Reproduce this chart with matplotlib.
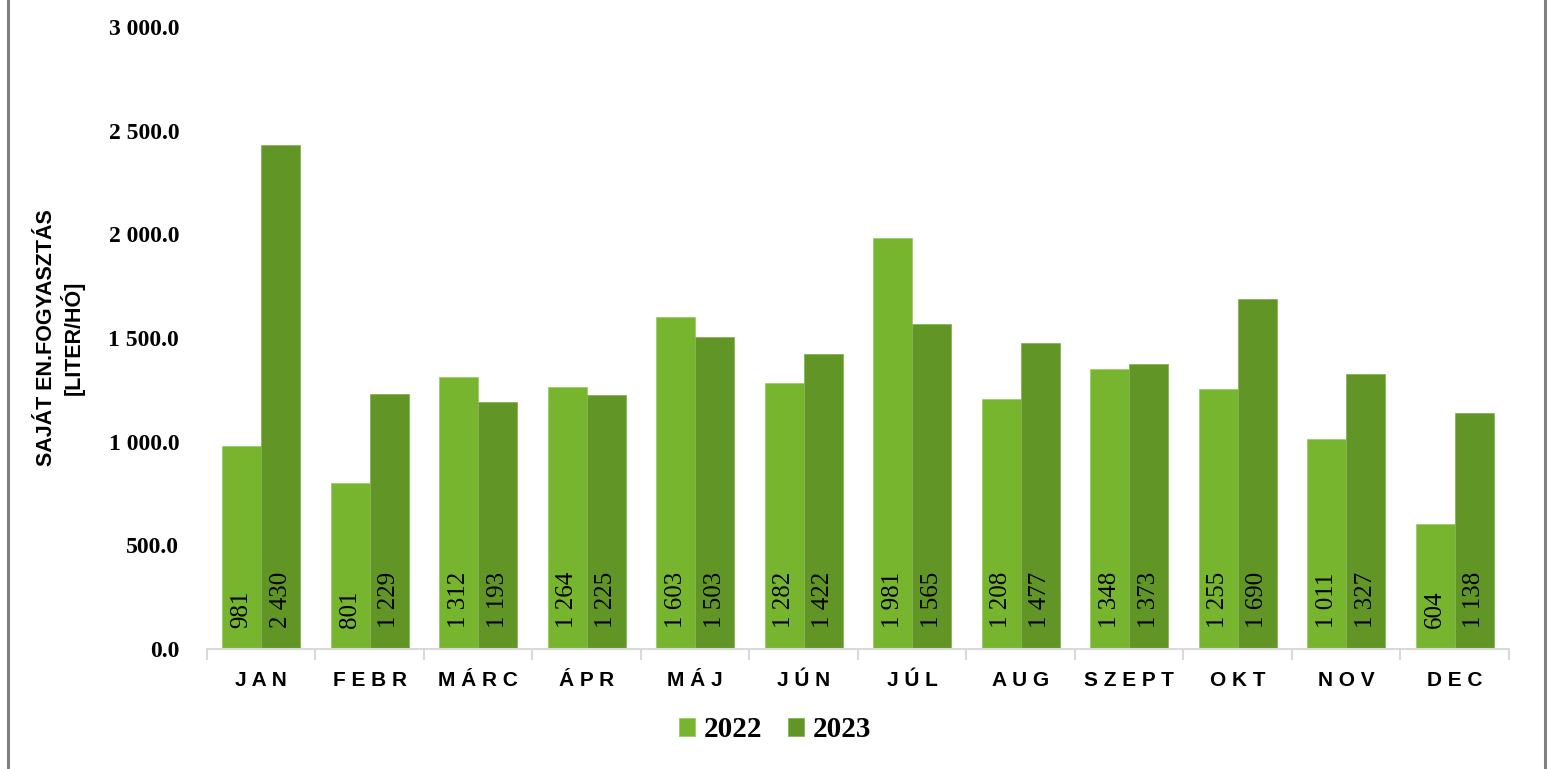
import matplotlib
matplotlib.use("Agg")
import matplotlib.pyplot as plt
import matplotlib.ticker as mtick
from matplotlib.lines import Line2D
import numpy as np

# data
months = ["JAN", "FEBR", "MÁRC", "ÁPR", "MÁJ", "JÚN", "JÚL", "AUG", "SZEPT", "OKT", "NOV", "DEC"]
values_2022 = [981, 801, 1312, 1264, 1603, 1282, 1981, 1208, 1348, 1255, 1011, 604]
values_2023 = [2430, 1229, 1193, 1225, 1503, 1422, 1565, 1477, 1373, 1690, 1327, 1138]
series_labels = ["2022", "2023"]

COLOR_2022 = "#77b52f"
COLOR_2023 = "#619627"
SERIF = "Liberation Serif"
SANS = "Liberation Sans"


def thousands(v, decimals=0):
    return f"{v:,.{decimals}f}".replace(",", " ")


fig = plt.figure(figsize=(15.5, 7.69), dpi=100)
ax = fig.add_axes([0.1335, 0.156, 0.840, 0.809])

x = np.arange(len(months))
width = 0.36
bars_a = ax.bar(x - width / 2, values_2022, width, color=COLOR_2022,
                edgecolor="#9ccc6a", linewidth=0.6, label=series_labels[0])
bars_b = ax.bar(x + width / 2, values_2023, width, color=COLOR_2023,
                edgecolor="#86b356", linewidth=0.6, label=series_labels[1])

# value labels at the base of each bar, rotated
for bars, vals in ((bars_a, values_2022), (bars_b, values_2023)):
    for b, v in zip(bars, vals):
        ax.text(b.get_x() + b.get_width() / 2, 100, thousands(v),
                rotation=90, ha="center", va="bottom",
                fontsize=18, family=SERIF, color="black")

ax.set_xlim(-0.5, len(months) - 0.5)
ax.set_ylim(0, 3000)
ax.yaxis.set_major_locator(mtick.MultipleLocator(500))
ax.yaxis.set_major_formatter(mtick.FuncFormatter(lambda v, p: thousands(v, 1)))

for s in ("top", "right", "left"):
    ax.spines[s].set_visible(False)
ax.spines["bottom"].set_color("#d9d9d9")
ax.spines["bottom"].set_linewidth(1.5)

ax.tick_params(axis="y", length=0, pad=20)
for lbl in ax.get_yticklabels():
    lbl.set_fontfamily(SERIF)
    lbl.set_fontweight("bold")
    lbl.set_fontsize(17)

# category labels with spaced letters, ticks at the category borders
ax.set_xticks(x)
ax.set_xticklabels([" ".join(m) for m in months], fontfamily=SANS,
                   fontweight="bold", fontsize=15)
ax.tick_params(axis="x", which="major", length=0, pad=16)
ax.set_xticks(np.arange(-0.5, len(months)), minor=True)
ax.tick_params(axis="x", which="minor", length=8, width=1.5, color="#d9d9d9")

fig.text(0.039, 0.5 * (0.156 + 0.965), "SAJÁT EN.FOGYASZTÁS\n[LITER/HÓ]",
         rotation=90, ha="center", va="center", multialignment="center",
         fontsize=15.5, fontweight="bold", family=SANS, linespacing=1.15)

leg = fig.legend(handles=[bars_a, bars_b], labels=series_labels, loc="center",
                 bbox_to_anchor=(0.5, 0.051), ncol=2, frameon=False,
                 handlelength=0.55, handleheight=0.55, handletextpad=0.3,
                 columnspacing=0.9,
                 prop={"family": SERIF, "weight": "bold", "size": 21})

# gray frame lines at left and right of the picture
fig.add_artist(Line2D([0.0052, 0.0052], [0, 1], transform=fig.transFigure,
                      color="#808080", linewidth=2.2))
fig.add_artist(Line2D([0.9965, 0.9965], [0, 1], transform=fig.transFigure,
                      color="#808080", linewidth=2.2))

fig.savefig("out.png", dpi=100, facecolor="white")
plt.close(fig)
